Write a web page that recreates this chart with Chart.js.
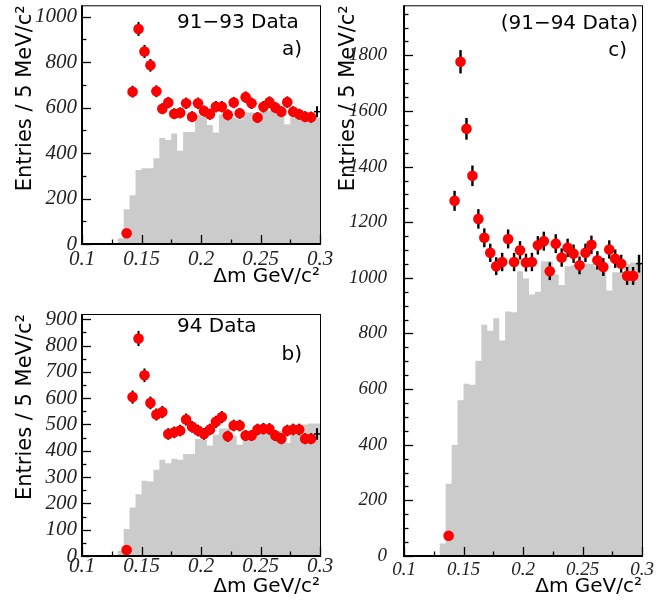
<!DOCTYPE html>
<html>
<head>
<meta charset="utf-8">
<script src="https://cdn.jsdelivr.net/npm/chart.js@4.4.1/dist/chart.umd.min.js"></script>
<style>
  body { margin: 0; background: #fff; }
  #wrap { position: relative; width: 666px; height: 602px; overflow: hidden; }
  canvas { position: absolute; }
</style>
</head>
<body>
<div id="wrap">
  <canvas id="panelA" width="340" height="300" style="left:0;top:0"></canvas>
  <canvas id="panelB" width="340" height="302" style="left:0;top:300px"></canvas>
  <canvas id="panelC" width="336" height="602" style="left:330px;top:0"></canvas>
</div>
<script>
// 40 bins of 5 MeV, 0.100 - 0.300 GeV
const histLow = 0.1;
const binWidth = 0.005;
// red points sit on bin centres 0.1375 ... 0.2975
const firstCentre = 0.1375;

// grey histograms (entries / bin)
const histA = [0, 0, 0, 0, 0, 0, 0, 25, 153, 214, 326, 333, 333, 377, 466, 457, 486, 410, 493, 493,
  566, 560, 523, 490, 570, 575, 555, 549, 578, 578, 575, 585, 585, 585, 585, 527, 556, 556, 556, 556];
const histB = [0, 0, 0, 0, 0, 0, 0, 20, 103, 184, 235, 286, 283, 328, 366, 353, 370, 366, 388, 388,
  445, 442, 420, 461, 485, 485, 455, 423, 468, 468, 475, 475, 468, 455, 475, 430, 461, 461, 500, 504];
const histC = [0, 0, 0, 0, 0, 0, 0, 45, 260, 399, 560, 619, 616, 702, 831, 810, 855, 775, 879, 876,
  1024, 998, 940, 950, 1060, 1060, 1012, 974, 1042, 1045, 1049, 1052, 1050, 1040, 1055, 955, 1020, 1020, 1050, 1055];

// data points and errors
const dataA = [47, 670, 946, 847, 786, 672, 595, 622, 573, 577, 619, 560, 619, 585, 571, 604, 604,
  568, 622, 575, 646, 619, 556, 604, 624, 600, 582, 624, 582, 571, 560, 558, 582];
const errA = [7, 26, 31, 29, 28, 26, 24, 25, 24, 24, 25, 24, 25, 24, 24, 25, 25,
  24, 25, 24, 25, 25, 24, 25, 25, 24, 24, 25, 24, 24, 24, 24, 24];
const dataB = [23, 604, 827, 687, 582, 538, 547, 464, 470, 477, 519, 491, 477, 464, 481, 510, 528,
  455, 496, 496, 458, 458, 481, 484, 483, 458, 446, 477, 481, 481, 446, 446, 464];
const errB = [5, 25, 29, 26, 24, 23, 23, 22, 22, 22, 23, 22, 22, 22, 22, 23, 23,
  21, 22, 22, 21, 21, 22, 22, 22, 21, 21, 22, 22, 22, 21, 21, 22];
const dataC = [73, 1277, 1777, 1536, 1367, 1212, 1144, 1090, 1042, 1057, 1140, 1057, 1099, 1055, 1057, 1117, 1132,
  1024, 1123, 1073, 1108, 1087, 1045, 1090, 1119, 1063, 1039, 1102, 1069, 1051, 1007, 1007, 1051];
const errC = [9, 36, 42, 39, 37, 35, 34, 33, 32, 33, 34, 33, 33, 32, 33, 33, 34,
  32, 34, 33, 33, 33, 32, 33, 33, 33, 32, 33, 33, 32, 32, 32, 32];

// tick labels
const xTickLabels = [0.1, 0.15, 0.2, 0.25, 0.3];
const yTicksA = [0, 200, 400, 600, 800, 1000];
const yTicksB = [0, 100, 200, 300, 400, 500, 600, 700, 800, 900];
const yTicksC = [0, 200, 400, 600, 800, 1000, 1200, 1400, 1600, 1800];

const xTicksMajor = 0.05, xTicksMinor = 0.025;
const serif = "'Liberation Serif', 'Times New Roman', serif";
const sans = "'DejaVu Sans', sans-serif";

function makePanel(id, p) {
  const centres = p.values.map((v, i) => firstCentre + i * binWidth);
  const histPts = p.hist.map((v, i) => ({ x: histLow + i * binWidth, y: v }));
  histPts.push({ x: histLow + p.hist.length * binWidth, y: p.hist[p.hist.length - 1] });
  const last = p.values.length - 1;

  const errorBars = {
    id: 'errorBars',
    beforeDatasetDraw(chart, args) {
      if (args.index !== 1) return;
      const { ctx, scales: { x, y } } = chart;
      ctx.save();
      ctx.strokeStyle = '#000';
      p.values.forEach((v, i) => {
        const e = p.errors[i];
        const px = x.getPixelForValue(centres[i]);
        ctx.lineWidth = p.errWidth;
        ctx.beginPath();
        ctx.moveTo(px, y.getPixelForValue(v - e));
        ctx.lineTo(px, y.getPixelForValue(v + e));
        ctx.stroke();
        ctx.lineWidth = 1.5;
        ctx.beginPath();
        ctx.moveTo(x.getPixelForValue(centres[i] - binWidth / 2), y.getPixelForValue(v));
        ctx.lineTo(x.getPixelForValue(centres[i] + binWidth / 2), y.getPixelForValue(v));
        ctx.stroke();
      });
      ctx.restore();
    }
  };

  const frame = {
    id: 'frame',
    afterDatasetsDraw(chart) {
      const { ctx, chartArea: a, scales: { x, y } } = chart;
      ctx.save();
      ctx.strokeStyle = '#000';
      // inward tick marks
      ctx.lineWidth = 1.3;
      for (let k = 0; ; k++) {
        const v = y.min + k * p.yMinor;
        if (v > y.max + 1e-6) break;
        const len = Math.abs(v / p.yStep - Math.round(v / p.yStep)) < 1e-6 ? 9 : 4.5;
        const py = Math.round(y.getPixelForValue(v)) + 0.5;
        ctx.beginPath(); ctx.moveTo(a.left, py); ctx.lineTo(a.left + len, py); ctx.stroke();
      }
      for (let k = 0; ; k++) {
        const v = x.min + k * xTicksMinor;
        if (v > x.max + 1e-9) break;
        const len = Math.abs(v / xTicksMajor - Math.round(v / xTicksMajor)) < 1e-6 ? 9 : 4.5;
        const px = Math.round(x.getPixelForValue(v)) + 0.5;
        ctx.beginPath(); ctx.moveTo(px, a.bottom); ctx.lineTo(px, a.bottom - len); ctx.stroke();
      }
      // box
      ctx.lineWidth = 1;
      ctx.strokeRect(a.left + 0.5, a.top + 0.5, a.right - a.left, a.bottom - a.top);
      ctx.lineWidth = 2;
      ctx.beginPath();
      ctx.moveTo(a.left, a.top); ctx.lineTo(a.left, a.bottom); ctx.lineTo(a.right + 1, a.bottom);
      ctx.stroke();
      ctx.restore();
    },
    afterDraw(chart) {
      const { ctx, chartArea: a } = chart;
      ctx.save();
      ctx.fillStyle = '#000';
      ctx.font = '20px ' + sans;
      ctx.textBaseline = 'middle';
      p.labels.forEach(l => {
        ctx.textAlign = l.align;
        const px = l.align === 'left' ? a.left + l.dx : a.right + l.dx;
        ctx.fillText(l.text, px, a.top + l.dy);
      });
      ctx.restore();
    }
  };

  return new Chart(document.getElementById(id), {
    type: 'scatter',
    data: {
      datasets: [
        {
          type: 'line', data: histPts, stepped: 'after', fill: 'origin',
          backgroundColor: '#cbcbcb', borderColor: 'rgba(0,0,0,0)', borderWidth: 0,
          pointRadius: 0, order: 2
        },
        {
          type: 'scatter', data: p.values.map((v, i) => ({ x: centres[i], y: v })),
          backgroundColor: '#ff0000', borderWidth: 0,
          pointRadius: ctx => ctx.dataIndex === last ? 0 : 5.3, order: 1
        }
      ]
    },
    options: {
      responsive: false,
      animation: false,
      devicePixelRatio: 1,
      layout: { padding: { top: p.pad.top, right: p.pad.right, left: 0, bottom: 0 } },
      plugins: { legend: { display: false }, tooltip: { enabled: false } },
      scales: {
        x: {
          type: 'linear', min: 0.1, max: 0.3,
          grid: { display: false, drawTicks: false },
          border: { display: false },
          afterBuildTicks: s => { s.ticks = xTickLabels.map(v => ({ value: v })); },
          ticks: {
            autoSkip: false, maxRotation: 0,
            padding: p.xTickPad, color: '#222',
            font: { family: serif, style: 'italic', size: p.tickFont },
            callback: v => String(+v.toFixed(3))
          },
          title: {
            display: true, text: 'Δm GeV/c²', align: 'end', color: '#000',
            font: { family: sans, size: 20 }, padding: { top: 0, bottom: p.xTitlePad }
          },
          afterFit: s => { s.height = p.xHeight; s.paddingLeft = 0; s.paddingRight = 0; }
        },
        y: {
          type: 'linear', min: 0, max: p.yMax,
          grid: { display: false, drawTicks: false },
          border: { display: false },
          afterBuildTicks: s => { s.ticks = p.yTicks.map(v => ({ value: v })); },
          ticks: {
            autoSkip: false, padding: p.yTickPad, color: '#222',
            font: { family: serif, style: 'italic', size: p.tickFont },
            callback: v => String(v)
          },
          title: {
            display: true, text: 'Entries / 5 MeV/c²', align: 'end', color: '#000',
            font: { family: sans, size: 21 }, padding: { top: p.yTitlePad, bottom: 0 }
          },
          afterFit: s => { s.width = p.yWidth; s.paddingTop = 0; s.paddingBottom = 0; }
        }
      }
    },
    plugins: [errorBars, frame]
  });
}

makePanel('panelA', {
  hist: histA, values: dataA, errors: errA, yTicks: yTicksA,
  yMax: 1050, yStep: 200, yMinor: 100,
  pad: { top: 3, right: 20 }, yWidth: 82, xHeight: 56,
  tickFont: 21, yTickPad: 5, xTickPad: 3, yTitlePad: 13, xTitlePad: 11, errWidth: 2,
  labels: [
    { text: '91−93 Data', align: 'left', dx: 95, dy: 17 },
    { text: 'a)', align: 'right', dx: -18, dy: 44 }
  ]
});

makePanel('panelB', {
  hist: histB, values: dataB, errors: errB, yTicks: yTicksB,
  yMax: 920, yStep: 100, yMinor: 50,
  pad: { top: 14, right: 20 }, yWidth: 82, xHeight: 46,
  tickFont: 21, yTickPad: 5, xTickPad: -2, yTitlePad: 13, xTitlePad: 3, errWidth: 2,
  labels: [
    { text: '94 Data', align: 'left', dx: 95, dy: 13 },
    { text: 'b)', align: 'right', dx: -18, dy: 41 }
  ]
});

makePanel('panelC', {
  hist: histC, values: dataC, errors: errC, yTicks: yTicksC,
  yMax: 1980, yStep: 200, yMinor: 50,
  pad: { top: 2, right: 24 }, yWidth: 74, xHeight: 46,
  tickFont: 19, yTickPad: 17, xTickPad: 3, yTitlePad: 6, xTitlePad: 3, errWidth: 2.4,
  labels: [
    { text: '(91−94 Data)', align: 'right', dx: -4, dy: 18 },
    { text: 'c)', align: 'right', dx: -15, dy: 45 }
  ]
});
</script>
</body>
</html>
